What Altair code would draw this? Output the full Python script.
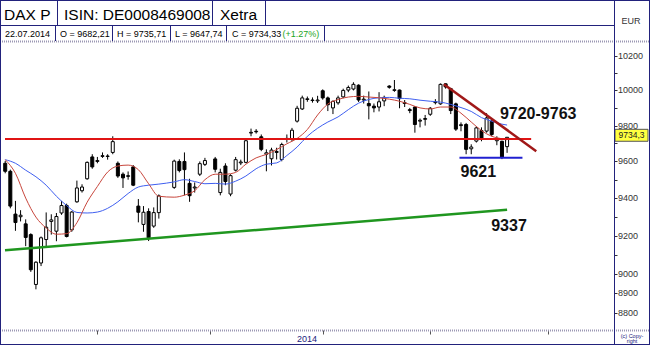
import altair as alt
import numpy as np
import pandas as pd

FONT = "Liberation Sans"
NAVY = "#22227c"
DOTS = "#9c98b4"

# ---------------- data ----------------
dates = [
    "2014-03-06", "2014-03-07", "2014-03-10", "2014-03-11", "2014-03-12", "2014-03-13", "2014-03-14",
    "2014-03-17", "2014-03-18", "2014-03-19", "2014-03-20", "2014-03-21",
    "2014-03-24", "2014-03-25", "2014-03-26", "2014-03-27", "2014-03-28",
    "2014-03-31", "2014-04-01", "2014-04-02", "2014-04-03", "2014-04-04",
    "2014-04-07", "2014-04-08", "2014-04-09", "2014-04-10", "2014-04-11",
    "2014-04-14", "2014-04-15", "2014-04-16", "2014-04-17",
    "2014-04-22", "2014-04-23", "2014-04-24", "2014-04-25",
    "2014-04-28", "2014-04-29", "2014-04-30", "2014-05-02",
    "2014-05-05", "2014-05-06", "2014-05-07", "2014-05-08", "2014-05-09",
    "2014-05-12", "2014-05-13", "2014-05-14", "2014-05-15", "2014-05-16",
    "2014-05-19", "2014-05-20", "2014-05-21", "2014-05-22", "2014-05-23",
    "2014-05-26", "2014-05-27", "2014-05-28", "2014-05-29", "2014-05-30",
    "2014-06-02", "2014-06-03", "2014-06-04", "2014-06-05", "2014-06-06",
    "2014-06-09", "2014-06-10", "2014-06-11", "2014-06-12", "2014-06-13",
    "2014-06-16", "2014-06-17", "2014-06-18", "2014-06-19", "2014-06-20",
    "2014-06-23", "2014-06-24", "2014-06-25", "2014-06-26", "2014-06-27",
    "2014-06-30", "2014-07-01", "2014-07-02", "2014-07-03", "2014-07-04",
    "2014-07-07", "2014-07-08", "2014-07-09", "2014-07-10", "2014-07-11",
    "2014-07-14", "2014-07-15", "2014-07-16", "2014-07-17", "2014-07-18",
    "2014-07-21", "2014-07-22",
]
opens = [
    9590, 9546, 9314, 9300, 9262, 9205, 8945,
    9056, 9179, 9275, 9223, 9320,
    9360, 9230, 9380, 9440, 9505,
    9625, 9600, 9628, 9630, 9650,
    9590, 9530, 9518, 9570, 9357,
    9259, 9328, 9250, 9322,
    9458, 9600, 9600, 9480,
    9455, 9530, 9584, 9614,
    9430, 9575, 9422, 9552, 9592,
    9595, 9758, 9768, 9737, 9640,
    9615, 9655, 9611, 9722, 9722,
    9825, 9894, 9948, 9945, 9940,
    9998, 9957, 9900, 9929, 9963,
    10002, 10008, 10030, 9945, 9925,
    9910, 9905, 9940, 10025, 10000,
    10002, 9925, 9890, 9905, 9825,
    9835, 9864, 9930, 9923, 10038,
    10010, 9923, 9800, 9806, 9670,
    9713, 9772, 9769, 9825, 9715,
    9712, 9682.21,
]
highs = [
    9603, 9555, 9385, 9335, 9286, 9212, 9065,
    9195, 9323, 9313, 9320, 9385,
    9370, 9330, 9495, 9475, 9600,
    9640, 9625, 9650, 9640, 9740,
    9600, 9540, 9545, 9580, 9395,
    9357, 9345, 9350, 9420,
    9610, 9612, 9650, 9505,
    9485, 9600, 9620, 9625,
    9560, 9590, 9530, 9625, 9610,
    9722, 9783, 9780, 9750, 9667,
    9676, 9676, 9704, 9750, 9787,
    9912, 9970, 9965, 9960, 9969,
    10006, 9965, 9943, 9970, 10010,
    10028, 10047, 10035, 9970, 9994,
    9925, 9990, 9970, 10030, 10060,
    10005, 9945, 9900, 9910, 9840,
    9860, 9905, 9950, 10040, 10040,
    10015, 9930, 9818, 9815, 9695,
    9795, 9790, 9870, 9835, 9740,
    9715, 9735.71,
]
lows = [
    9535, 9345, 9225, 9275, 9144, 9010, 8920,
    9040, 9135, 9205, 9170, 9310,
    9190, 9220, 9375, 9430, 9500,
    9560, 9590, 9620, 9610, 9640,
    9510, 9455, 9500, 9465, 9270,
    9220, 9171, 9241, 9290,
    9450, 9540, 9415, 9380,
    9430, 9520, 9575, 9540,
    9415, 9470, 9410, 9545, 9580,
    9590, 9740, 9755, 9657, 9546,
    9578, 9611, 9601, 9705, 9713,
    9817, 9888, 9935, 9930, 9928,
    9947, 9882, 9865, 9918, 9955,
    9990, 10000, 9934, 9925, 9835,
    9875, 9880, 9910, 10010, 9992,
    9898, 9905, 9870, 9760, 9790,
    9800, 9855, 9920, 9918, 10010,
    9865, 9770, 9768, 9640, 9640,
    9705, 9712, 9760, 9740, 9690,
    9613, 9647.74,
]
closes = [
    9546, 9357, 9269, 9308, 9190, 9021, 9060,
    9188, 9244, 9283, 9301, 9360,
    9195, 9325, 9455, 9460, 9595,
    9570, 9605, 9632, 9628, 9710,
    9520, 9510, 9522, 9470, 9324,
    9324, 9188, 9322, 9412,
    9602, 9550, 9555, 9413,
    9460, 9588, 9605, 9557,
    9540, 9490, 9522, 9610, 9597,
    9715, 9762, 9765, 9667, 9648,
    9663, 9650, 9694, 9728, 9774,
    9898, 9957, 9952, 9942, 9945,
    9957, 9918, 9937, 9957, 10000,
    10017, 10035, 9945, 9950, 9912,
    9900, 9935, 9960, 10018, 10004,
    9953, 9930, 9885, 9806, 9830,
    9840, 9898, 9935, 10035, 10020,
    9885, 9780, 9805, 9667, 9680,
    9787, 9722, 9843, 9750, 9722,
    9625, 9734.33,
]

ma_dates = [
    "2014-03-06", "2014-03-10", "2014-03-12", "2014-03-14", "2014-03-18", "2014-03-20",
    "2014-03-24", "2014-03-26", "2014-03-28", "2014-04-01", "2014-04-03", "2014-04-07",
    "2014-04-09", "2014-04-11", "2014-04-15", "2014-04-17", "2014-04-22", "2014-04-24",
    "2014-04-28", "2014-04-30", "2014-05-02", "2014-05-06", "2014-05-08", "2014-05-12",
    "2014-05-14", "2014-05-16", "2014-05-20", "2014-05-22", "2014-05-26", "2014-05-28",
    "2014-05-30", "2014-06-03", "2014-06-05", "2014-06-09", "2014-06-11", "2014-06-13",
    "2014-06-17", "2014-06-19", "2014-06-23", "2014-06-25", "2014-06-27", "2014-07-01",
    "2014-07-03", "2014-07-07", "2014-07-09", "2014-07-11", "2014-07-15", "2014-07-17",
    "2014-07-21", "2014-07-22",
]
ma_fast = [
    9610, 9535, 9400, 9298, 9240, 9207,
    9210, 9268, 9378, 9463, 9542, 9575,
    9580, 9555, 9478, 9410, 9405, 9416,
    9440, 9500, 9530, 9530, 9540, 9585,
    9620, 9639, 9666, 9698, 9728, 9778,
    9860, 9922, 9948, 9962, 9966, 9962,
    9958, 9950, 9938, 9920, 9900, 9894,
    9905, 9905, 9870, 9820, 9772, 9740,
    9726, 9720,
]
ma_slow = [
    9610, 9590, 9552, 9516, 9470, 9410,
    9360, 9323, 9320, 9325, 9345, 9380,
    9425, 9460, 9470, 9476, 9488, 9500,
    9490, 9478, 9480, 9476, 9492, 9520,
    9560, 9585, 9592, 9633, 9680, 9740,
    9785, 9820, 9849, 9890, 9927, 9948,
    9958, 9960, 9955, 9952, 9944, 9938,
    9933, 9920, 9902, 9880, 9845, 9825,
    9808, 9803,
]

first_day = "2014-03-05"
month_starts = ["2014-04-01", "2014-05-01", "2014-06-02", "2014-07-01", "2014-08-01"]
y_labels = [8800, 8900, 9000, 9200, 9400, 9600, 9800, 10000, 10200]
y_minor = [9100, 9300, 9500, 9700, 9900, 10100]

resistance_level = 9725
resistance_span = [0.96, 103.7]      # in trading-day slots
support_level = 9621
support_span = [89.7, 102.0]
uptrend_slots = [0.96, 99.0]
uptrend_values = [9122, 9337]
downtrend_slots = [86.65, 104.7]
downtrend_values = [10035, 9657]

label_texts = ["9720-9763", "9621", "9337"]
label_slots = [97.6, 89.9, 95.9]
label_values = [9835, 9512, 9222]

last_price_text = "9734,3"
last_price_box = [9779, 9712]
last_price = 9745

# ---------------- frames ----------------
df = pd.DataFrame({"date": dates, "open": opens, "high": highs, "low": lows, "close": closes})
df["slot"] = np.busday_count(first_day, np.array(dates, dtype="datetime64[D]"))

ma = pd.DataFrame({"date": ma_dates, "fast": ma_fast, "slow": ma_slow})
ma["slot"] = np.busday_count(first_day, np.array(ma_dates, dtype="datetime64[D]"))

month_slots = [int(v) for v in np.busday_count(first_day, np.array(month_starts, dtype="datetime64[D]"))]

W, H = 614, 289
xscale = alt.Scale(domain=[0.96, 118.9], nice=False, zero=False)
yscale = alt.Scale(type="log", domain=[8714, 10288], nice=False, zero=False)

x_axis = alt.Axis(values=month_slots, labels=False, domain=False, grid=False, ticks=True,
                  tickSize=4, tickColor="#555555", title=None, orient="bottom")
y_axis = alt.Axis(orient="right", values=y_labels + y_minor, labels=False,
                  domain=False, grid=False, tickSize=3, tickColor="#333333", title=None)


def X(field):
    return alt.X(field, scale=xscale, axis=x_axis)


def Y(field):
    return alt.Y(field, scale=yscale, axis=y_axis)


wick = alt.Chart(df).mark_rule(color="black", strokeWidth=1).encode(
    x=X("slot:Q"), y=Y("low:Q"), y2="high:Q")
body = alt.Chart(df).mark_bar(size=3, stroke="black", strokeWidth=1, orient="vertical").encode(
    x=X("slot:Q"), y=Y("open:Q"), y2="close:Q",
    fill=alt.condition("datum.close >= datum.open", alt.value("white"), alt.value("black")),
)

ma_fast_line = alt.Chart(ma).mark_line(color="#c8463c", strokeWidth=1, interpolate="monotone").encode(
    x=X("slot:Q"), y=Y("fast:Q"))
ma_slow_line = alt.Chart(ma).mark_line(color="#3f5ff0", strokeWidth=1, interpolate="monotone").encode(
    x=X("slot:Q"), y=Y("slow:Q"))


def level_rule(level, span, color, width):
    d = pd.DataFrame({"x": [span[0]], "x2": [span[1]], "y": [level]})
    return alt.Chart(d).mark_rule(color=color, strokeWidth=width).encode(
        x=X("x:Q"), x2="x2:Q", y=Y("y:Q"))


def trend_line(slots, values, color, width):
    d = pd.DataFrame({"slot": slots, "value": values})
    return alt.Chart(d).mark_line(color=color, strokeWidth=width).encode(
        x=X("slot:Q"), y=Y("value:Q"))


res_line = level_rule(resistance_level, resistance_span, "#e01414", 2)
sup_line = level_rule(support_level, support_span, "#2020d0", 2)
up_line = trend_line(uptrend_slots, uptrend_values, "#1f961f", 2.5)
down_line = trend_line(downtrend_slots, downtrend_values, "#a01818", 2.5)

lab_df = pd.DataFrame({"slot": label_slots, "value": label_values, "text": label_texts})
labels = alt.Chart(lab_df).mark_text(font=FONT, fontSize=16, fontWeight="bold", color="#111111",
                                     align="left", baseline="alphabetic").encode(
    x=X("slot:Q"), y=Y("value:Q"), text="text:N")

box_df = pd.DataFrame({"top": [last_price_box[0]], "bottom": [last_price_box[1]],
                       "mid": [last_price], "text": [last_price_text]})
price_box = alt.Chart(box_df).mark_rect(fill="#ffff40", stroke="#555555", strokeWidth=1).encode(
    x=alt.value(615), x2=alt.value(648), y=Y("top:Q"), y2="bottom:Q")
price_text = alt.Chart(box_df).mark_text(font=FONT, fontSize=8.5, color="#222222",
                                         align="center", baseline="middle").encode(
    x=alt.value(631.5), y=Y("mid:Q"), text="text:N")

ylab_df = pd.DataFrame({"v": y_labels})
y_tick_labels = alt.Chart(ylab_df).mark_text(font=FONT, fontSize=9, color="#333333",
                                             align="left", baseline="middle").encode(
    x=alt.value(618), y=Y("v:Q"), text=alt.Text("v:Q", format="d"))

# ---------------- frame / header decorations (pixel layout) ----------------
ONE = pd.DataFrame({"k": [0]})


def vrule(x, y1, y2, color=NAVY, w=1, dash=None):
    kw = dict(color=color, strokeWidth=w)
    if dash:
        kw["strokeDash"] = dash
    return alt.Chart(ONE).mark_rule(**kw).encode(x=alt.value(x), y=alt.value(y1), y2=alt.value(y2))


def hrule(y, x1, x2, color=NAVY, w=1, dash=None):
    kw = dict(color=color, strokeWidth=w)
    if dash:
        kw["strokeDash"] = dash
    return alt.Chart(ONE).mark_rule(**kw).encode(x=alt.value(x1), x2=alt.value(x2), y=alt.value(y))


def txt(s, x, y, size, color="black", weight="normal", align="left", baseline="alphabetic"):
    return alt.Chart(ONE).mark_text(text=s, font=FONT, fontSize=size, color=color, fontWeight=weight,
                                    align=align, baseline=baseline).encode(x=alt.value(x), y=alt.value(y))


T = -41  # page y = 0 in plot coordinates
deco = [
    hrule(0.5, 0, 650, DOTS, 2, [1, 1]),
    hrule(289.5, 0, 650, DOTS, 2, [1, 1]),
    vrule(0.5, T, 304),
    vrule(649.5, T, 304),
    hrule(T + 0.5, 0, 650),
    hrule(303.5, 0, 650),
    vrule(614.5, T, 304),
    hrule(-15.5, 0, 614.5),
    vrule(57.5, T, -15.5), vrule(212.5, T, -15.5), vrule(265.5, T, -15.5),
    vrule(55.5, -15.5, 0), vrule(112.5, -15.5, 0), vrule(170.5, -15.5, 0),
    vrule(226.5, -15.5, 0), vrule(324.5, -15.5, 0),
    txt("DAX P", 4, -21.5, 15.5),
    txt("ISIN: DE0008469008", 64, -21.5, 15.5),
    txt("Xetra", 220, -21.5, 15.5),
    txt("22.07.2014", 5, -4.3, 9),
    txt("O = 9682,21", 60, -4.3, 9),
    txt("H = 9735,71", 117, -4.3, 9),
    txt("L = 9647,74", 175, -4.3, 9),
    txt("C = 9734,33", 232, -4.3, 9),
    txt("(+1.27%)", 282.5, -4.3, 9, color="#1aa51a"),
    txt("EUR", 631, -17, 9, color="#333333", align="center"),
    txt("2014", 307, 301, 9, color=NAVY, align="center"),
    txt("(c) Copy-", 632, 296.5, 5.5, color=NAVY, align="center"),
    txt("right", 632, 302, 5.5, color=NAVY, align="center"),
]

chart = alt.layer(
    wick, body, ma_slow_line, ma_fast_line, res_line, up_line, down_line, sup_line, labels,
    price_box, price_text, y_tick_labels, *deco
).properties(
    width=W, height=H,
    padding={"left": 0, "top": 41, "right": 36, "bottom": 15},
    autosize=alt.AutoSizeParams(type="none"),
    background="white",
).configure_view(strokeWidth=0)

chart.save("out.html", embed_options={"renderer": "svg", "actions": False})
